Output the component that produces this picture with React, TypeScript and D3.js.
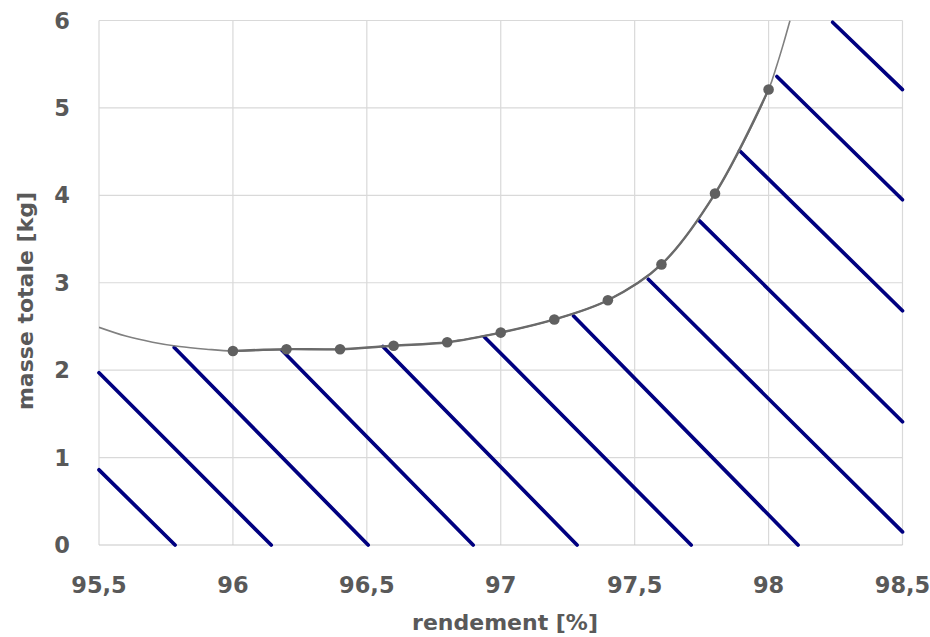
import React, { useEffect } from "react";
import * as d3 from "d3";

const xTicks = [95.5, 96, 96.5, 97, 97.5, 98, 98.5];
const yTicks = [0, 1, 2, 3, 4, 5, 6];

const efficiency = [96, 96.2, 96.4, 96.6, 96.8, 97, 97.2, 97.4, 97.6, 97.8, 98];
const mass = [2.22, 2.24, 2.24, 2.28, 2.32, 2.43, 2.58, 2.8, 3.21, 4.02, 5.21];

const trendX = [95.5, 95.6, 95.7, 95.8, 95.9, 96.0, 96.2, 96.4, 96.6, 96.8, 97.0, 97.2, 97.4, 97.6, 97.8, 98.0, 98.03, 98.055, 98.08];
const trendY = [2.49, 2.39, 2.32, 2.27, 2.24, 2.22, 2.24, 2.24, 2.28, 2.32, 2.43, 2.58, 2.8, 3.21, 4.02, 5.21, 5.48, 5.73, 6.0];

const hatchX1 = [95.5, 95.5, 95.781, 96.182, 96.56, 96.939, 97.272, 97.551, 97.741, 97.892, 98.031, 98.239];
const hatchY1 = [0.86, 1.97, 2.26, 2.23, 2.27, 2.38, 2.62, 3.04, 3.71, 4.51, 5.36, 5.98];
const hatchX2 = [95.784, 96.143, 96.505, 96.897, 97.285, 97.711, 98.11, 98.5, 98.5, 98.5, 98.5, 98.5];
const hatchY2 = [0, 0, 0, 0, 0, 0, 0, 0.15, 1.41, 2.68, 3.95, 5.21];

const W = 930;
const H = 637;
const left = 99;
const right = 902.5;
const top = 20.5;
const bottom = 545;

const fmt = (v: number) => String(v).replace(".", ",");

export default function App() {
  useEffect(() => {
    document.body.style.margin = "0";
  }, []);

  const x = d3.scaleLinear().domain([95.5, 98.5]).range([left, right]);
  const y = d3.scaleLinear().domain([0, 6]).range([bottom, top]);

  const trendPts: [number, number][] = trendX.map((v, i) => [v, trendY[i]]);
  const seriesPts: [number, number][] = efficiency.map((v, i) => [v, mass[i]]);

  const trendLine = d3
    .line<[number, number]>()
    .x((d) => x(d[0]))
    .y((d) => y(d[1]))
    .curve(d3.curveCatmullRom);
  const seriesLine = d3
    .line<[number, number]>()
    .x((d) => x(d[0]))
    .y((d) => y(d[1]))
    .curve(d3.curveCatmullRom);

  const font = "'DejaVu Sans', sans-serif";
  const textColor = "#595959";

  return (
    <svg width={W} height={H} style={{ display: "block", position: "absolute", left: 0, top: 0 }}>
      <rect x={0} y={0} width={W} height={H} fill="#ffffff" />
      <defs>
        <clipPath id="plotclip">
          <rect x={left} y={top} width={right - left} height={bottom - top} />
        </clipPath>
      </defs>
      {xTicks.map((t) => (
        <line key={"gx" + t} x1={x(t)} x2={x(t)} y1={top} y2={bottom} stroke="#d9d9d9" strokeWidth={1.2} />
      ))}
      {yTicks.map((t) => (
        <line key={"gy" + t} x1={left} x2={right} y1={y(t)} y2={y(t)} stroke={t === 0 ? "#c8c8c8" : "#d9d9d9"} strokeWidth={1.2} />
      ))}
      {hatchX1.map((v, i) => (
        <line
          key={"h" + i}
          x1={x(v)}
          y1={y(hatchY1[i])}
          x2={x(hatchX2[i])}
          y2={y(hatchY2[i])}
          stroke="#000080"
          strokeWidth={3.7}
          strokeLinecap="round"
        />
      ))}
      <g clipPath="url(#plotclip)">
        <path d={trendLine(trendPts) || ""} fill="none" stroke="#808080" strokeWidth={1.6} />
      </g>
      <path d={seriesLine(seriesPts) || ""} fill="none" stroke="#6a6a6a" strokeWidth={2.4} />
      {seriesPts.map((d, i) => (
        <circle key={"m" + i} cx={x(d[0])} cy={y(d[1])} r={5.3} fill="#606060" />
      ))}
      {xTicks.map((t) => (
        <text
          key={"tx" + t}
          x={x(t)}
          y={593}
          textAnchor="middle"
          fontFamily={font}
          fontWeight="bold"
          fontSize={22.5}
          fill={textColor}
        >
          {fmt(t)}
        </text>
      ))}
      {yTicks.map((t) => (
        <text
          key={"ty" + t}
          x={70}
          y={y(t)}
          dy="0.36em"
          textAnchor="end"
          fontFamily={font}
          fontWeight="bold"
          fontSize={22.5}
          fill={textColor}
        >
          {fmt(t)}
        </text>
      ))}
      <text
        x={505}
        y={630}
        textAnchor="middle"
        fontFamily={font}
        fontWeight="bold"
        fontSize={22}
        fill={textColor}
      >
        rendement [%]
      </text>
      <text
        transform={`translate(33, 301) rotate(-90)`}
        textAnchor="middle"
        fontFamily={font}
        fontWeight="bold"
        fontSize={22}
        fill={textColor}
      >
        masse totale [kg]
      </text>
    </svg>
  );
}
